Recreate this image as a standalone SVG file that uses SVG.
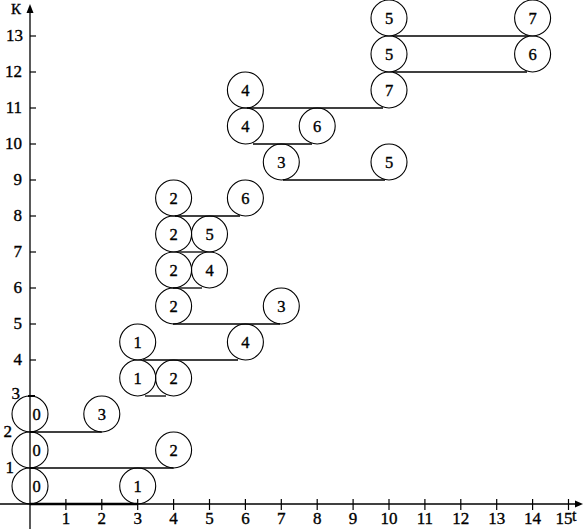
<svg xmlns="http://www.w3.org/2000/svg" width="585" height="530" viewBox="0 0 585 530" font-family="'Liberation Serif', 'Times New Roman', serif">
<style>
.ax{stroke:#000;stroke-width:1.3;fill:none}
.tk{stroke:#000;stroke-width:1.2}
text{font-family:'Liberation Serif','Times New Roman',serif;fill:#000;stroke:#000;stroke-width:0.35}
.lb{font-size:16px}
.xl{font-size:17px;text-anchor:middle}
.yl{font-size:17px;text-anchor:end}
.nd circle{fill:none;stroke:#000;stroke-width:1.1}
.nd text{font-size:16.5px;text-anchor:middle}
.cn line{stroke:#000;stroke-width:1.3}
</style>
<rect width="585" height="530" fill="#fff"/>
<g id="axes">
<line class="ax" x1="30" y1="10" x2="30" y2="529"/>
<line class="ax" x1="0" y1="504" x2="577" y2="504"/>
<polygon points="30,4 26.5,13 33.5,13" fill="#000"/>
<polygon points="583,504 575,500.5 575,507.5" fill="#000"/>
<g class="tk">
<line x1="65.9" y1="499" x2="65.9" y2="510"/><line x1="101.8" y1="499" x2="101.8" y2="510"/><line x1="137.7" y1="499" x2="137.7" y2="510"/><line x1="173.6" y1="499" x2="173.6" y2="510"/><line x1="209.5" y1="499" x2="209.5" y2="510"/><line x1="245.4" y1="499" x2="245.4" y2="510"/><line x1="281.3" y1="499" x2="281.3" y2="510"/><line x1="317.2" y1="499" x2="317.2" y2="510"/><line x1="353.1" y1="499" x2="353.1" y2="510"/><line x1="389" y1="499" x2="389" y2="510"/><line x1="424.9" y1="499" x2="424.9" y2="510"/><line x1="460.8" y1="499" x2="460.8" y2="510"/><line x1="496.7" y1="499" x2="496.7" y2="510"/><line x1="532.6" y1="499" x2="532.6" y2="510"/><line x1="568.5" y1="499" x2="568.5" y2="510"/>
<line x1="30" y1="468" x2="36" y2="468"/><line x1="30" y1="432" x2="36" y2="432"/><line x1="28" y1="396" x2="35" y2="396" stroke-width="2"/><line x1="30" y1="360" x2="36" y2="360"/><line x1="30" y1="324" x2="36" y2="324"/><line x1="30" y1="288" x2="36" y2="288"/><line x1="30" y1="252" x2="36" y2="252"/><line x1="30" y1="216" x2="36" y2="216"/><line x1="30" y1="180" x2="36" y2="180"/><line x1="30" y1="144" x2="36" y2="144"/><line x1="30" y1="108" x2="36" y2="108"/><line x1="30" y1="72" x2="36" y2="72"/><line x1="30" y1="36" x2="36" y2="36"/>
</g>
<text class="xl" x="65.9" y="524">1</text><text class="xl" x="101.8" y="524">2</text><text class="xl" x="137.7" y="524">3</text><text class="xl" x="173.6" y="524">4</text><text class="xl" x="209.5" y="524">5</text><text class="xl" x="245.4" y="524">6</text><text class="xl" x="281.3" y="524">7</text><text class="xl" x="317.2" y="524">8</text><text class="xl" x="353.1" y="524">9</text><text class="xl" x="389" y="524">10</text><text class="xl" x="424.9" y="524">11</text><text class="xl" x="460.8" y="524">12</text><text class="xl" x="496.7" y="524">13</text><text class="xl" x="532.6" y="524">14</text><text class="xl" x="564" y="524">15</text>
<text class="lb" x="572" y="521">t</text>
<text class="lb" x="11" y="14" style="font-size:15px">К</text>
<text class="yl" x="14" y="473">1</text><text class="yl" x="12" y="437">2</text><text class="yl" x="20" y="399">3</text><text class="yl" x="22" y="365">4</text><text class="yl" x="22" y="329">5</text><text class="yl" x="22" y="293">6</text><text class="yl" x="22" y="257">7</text><text class="yl" x="22" y="221">8</text><text class="yl" x="22" y="185">9</text><text class="yl" x="22" y="149">10</text><text class="yl" x="22" y="113">11</text><text class="yl" x="22" y="77">12</text><text class="yl" x="23" y="41">13</text>
</g>
<g id="connectors" class="cn">
<line x1="30" y1="504" x2="137.7" y2="504" style="stroke-width:2.5"/>
<line x1="30" y1="468" x2="173.6" y2="468"/>
<line x1="30" y1="432" x2="101.8" y2="432"/>
<line x1="145" y1="396" x2="166" y2="396"/>
<line x1="143" y1="360" x2="238" y2="360"/>
<line x1="173" y1="324" x2="280" y2="324"/>
<line x1="173" y1="288" x2="202" y2="288"/>
<line x1="178" y1="252" x2="205" y2="252"/>
<line x1="175" y1="216" x2="240" y2="216"/>
<line x1="283" y1="180" x2="385" y2="180"/>
<line x1="253" y1="144" x2="312" y2="144"/>
<line x1="247" y1="108" x2="383" y2="108"/>
<line x1="393" y1="72" x2="527" y2="72"/>
<line x1="393" y1="36" x2="528" y2="36"/>
</g>
<g id="n1a" class="nd"><circle cx="30" cy="486" r="18"/><text x="36.5" y="491.5">0</text></g>
<g id="n1b" class="nd"><circle cx="137.7" cy="486" r="18"/><text x="137.7" y="491.5">1</text></g>
<g id="n2a" class="nd"><circle cx="30" cy="450" r="18"/><text x="36.5" y="455.5">0</text></g>
<g id="n2b" class="nd"><circle cx="173.6" cy="450" r="18"/><text x="173.6" y="455.5">2</text></g>
<g id="n3a" class="nd"><circle cx="30" cy="414" r="18"/><text x="36.5" y="419.5">0</text></g>
<g id="n3b" class="nd"><circle cx="101.8" cy="414" r="18"/><text x="101.8" y="419.5">3</text></g>
<g id="n4a" class="nd"><circle cx="137.7" cy="378" r="18"/><text x="137.7" y="383.5">1</text></g>
<g id="n4b" class="nd"><circle cx="173.6" cy="378" r="18"/><text x="173.6" y="383.5">2</text></g>
<g id="n5a" class="nd"><circle cx="137.7" cy="342" r="18"/><text x="137.7" y="347.5">1</text></g>
<g id="n5b" class="nd"><circle cx="245.4" cy="342" r="18"/><text x="245.4" y="347.5">4</text></g>
<g id="n6a" class="nd"><circle cx="173.6" cy="306" r="18"/><text x="173.6" y="311.5">2</text></g>
<g id="n6b" class="nd"><circle cx="281.3" cy="306" r="18"/><text x="281.3" y="311.5">3</text></g>
<g id="n7a" class="nd"><circle cx="173.6" cy="270" r="18"/><text x="173.6" y="275.5">2</text></g>
<g id="n7b" class="nd"><circle cx="209.5" cy="270" r="18"/><text x="209.5" y="275.5">4</text></g>
<g id="n8a" class="nd"><circle cx="173.6" cy="234" r="18"/><text x="173.6" y="239.5">2</text></g>
<g id="n8b" class="nd"><circle cx="209.5" cy="234" r="18"/><text x="209.5" y="239.5">5</text></g>
<g id="n9a" class="nd"><circle cx="173.6" cy="198" r="18"/><text x="173.6" y="203.5">2</text></g>
<g id="n9b" class="nd"><circle cx="245.4" cy="198" r="18"/><text x="245.4" y="203.5">6</text></g>
<g id="n10a" class="nd"><circle cx="281.3" cy="162" r="18"/><text x="281.3" y="167.5">3</text></g>
<g id="n10b" class="nd"><circle cx="389" cy="162" r="18"/><text x="389" y="167.5">5</text></g>
<g id="n11a" class="nd"><circle cx="245.4" cy="126" r="18"/><text x="245.4" y="131.5">4</text></g>
<g id="n11b" class="nd"><circle cx="317.2" cy="126" r="18"/><text x="317.2" y="131.5">6</text></g>
<g id="n12a" class="nd"><circle cx="245.4" cy="90" r="18"/><text x="245.4" y="95.5">4</text></g>
<g id="n12b" class="nd"><circle cx="389" cy="90" r="18"/><text x="389" y="95.5">7</text></g>
<g id="n13a" class="nd"><circle cx="389" cy="54" r="18"/><text x="389" y="59.5">5</text></g>
<g id="n13b" class="nd"><circle cx="532.6" cy="54" r="18"/><text x="532.6" y="59.5">6</text></g>
<g id="n14a" class="nd"><circle cx="389" cy="18" r="18"/><text x="389" y="23.5">5</text></g>
<g id="n14b" class="nd"><circle cx="532.6" cy="18" r="18"/><text x="532.6" y="23.5">7</text></g>
</svg>
